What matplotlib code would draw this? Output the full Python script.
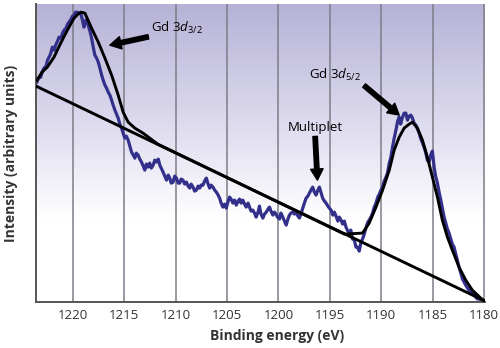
import numpy as np
import matplotlib
matplotlib.use("Agg")
import matplotlib.pyplot as plt
from matplotlib.colors import LinearSegmentedColormap

plt.rcParams['font.family'] = ['Open Sans', 'DejaVu Sans']
plt.rcParams['mathtext.fontset'] = 'custom'
plt.rcParams['mathtext.rm'] = 'Open Sans'
plt.rcParams['mathtext.it'] = 'Open Sans:italic'

# measured Gd 3d spectrum (binding energy in eV, intensity in arbitrary units)
energy = [
    1223.53, 1223.35, 1223.14, 1223.01, 1222.82, 1222.62, 1222.48, 1222.33, 1222.19, 1222.01,
    1221.85, 1221.65, 1221.51, 1221.36, 1221.17, 1221.02, 1220.87, 1220.68, 1220.53, 1220.39,
    1220.19, 1220.05, 1219.90, 1219.76, 1219.58, 1219.42, 1219.25, 1219.08, 1218.93, 1218.77,
    1218.64, 1218.52, 1218.35, 1218.19, 1218.03, 1217.87, 1217.70, 1217.54, 1217.38, 1217.21,
    1217.06, 1216.89, 1216.73, 1216.57, 1216.41, 1216.24, 1216.09, 1215.92, 1215.76, 1215.60,
    1215.44, 1215.27, 1215.12, 1214.95, 1214.81, 1214.63, 1214.47, 1214.30, 1214.13, 1213.98,
    1213.84, 1213.66, 1213.50, 1213.33, 1213.16, 1213.01, 1212.86, 1212.69, 1212.53, 1212.38,
    1212.20, 1212.04, 1211.88, 1211.70, 1211.55, 1211.41, 1211.23, 1211.07, 1210.90, 1210.73,
    1210.58, 1210.44, 1210.26, 1210.10, 1209.93, 1209.76, 1209.61, 1209.47, 1209.29, 1209.13,
    1208.96, 1208.79, 1208.64, 1208.50, 1208.32, 1208.16, 1207.99, 1207.82, 1207.67, 1207.53,
    1207.35, 1207.19, 1207.02, 1206.85, 1206.70, 1206.55, 1206.38, 1206.21, 1206.05, 1205.87,
    1205.73, 1205.58, 1205.41, 1205.24, 1205.08, 1204.90, 1204.76, 1204.61, 1204.44, 1204.27,
    1204.11, 1203.93, 1203.79, 1203.64, 1203.47, 1203.30, 1203.14, 1202.96, 1202.82, 1202.67,
    1202.50, 1202.33, 1202.17, 1201.99, 1201.85, 1201.70, 1201.52, 1201.36, 1201.19, 1201.02,
    1200.87, 1200.73, 1200.55, 1200.39, 1200.24, 1200.10, 1199.90, 1199.76, 1199.58, 1199.42,
    1199.25, 1199.08, 1198.93, 1198.79, 1198.61, 1198.45, 1198.28, 1198.11, 1197.96, 1197.82,
    1197.64, 1197.48, 1197.31, 1197.14, 1196.99, 1196.84, 1196.67, 1196.51, 1196.34, 1196.17,
    1196.02, 1195.87, 1195.70, 1195.53, 1195.37, 1195.19, 1195.05, 1194.88, 1194.71, 1194.56,
    1194.40, 1194.22, 1194.08, 1193.91, 1193.76, 1193.59, 1193.43, 1193.25, 1193.11, 1192.96,
    1192.79, 1192.62, 1192.46, 1192.30, 1192.14, 1191.97, 1191.82, 1191.65, 1191.49, 1191.31,
    1191.17, 1191.00, 1190.84, 1190.68, 1190.51, 1190.34, 1190.19, 1190.03, 1189.87, 1189.71,
    1189.54, 1189.39, 1189.22, 1189.08, 1188.90, 1188.74, 1188.57, 1188.40, 1188.25, 1188.11,
    1187.96, 1187.77, 1187.60, 1187.45, 1187.28, 1187.12, 1186.96, 1186.80, 1186.63, 1186.46,
    1186.31, 1186.17, 1186.02, 1185.83, 1185.68, 1185.51, 1185.34, 1185.19, 1185.02, 1184.85,
    1184.71, 1184.53, 1184.37, 1184.20, 1184.05, 1183.88, 1183.74, 1183.59, 1183.40, 1183.25,
    1183.08, 1182.91, 1182.77, 1182.59, 1182.43, 1182.26, 1182.09, 1181.94, 1181.78, 1181.60,
    1181.46, 1181.29, 1181.12, 1180.97, 1180.81, 1180.63, 1180.49, 1180.34, 1180.17, 1180.00,
]
intensity = [
    220, 224, 225, 230, 234, 236, 242, 245, 248, 255,
    252, 258, 261, 265, 264, 269, 272, 274, 278, 280,
    283, 286, 287, 290, 290, 289, 289, 282, 275, 282,
    280, 277, 271, 264, 255, 247, 244, 240, 234, 227,
    222, 217, 214, 210, 207, 202, 197, 192, 188, 184,
    178, 174, 169, 164, 166, 162, 156, 150, 147, 144,
    149, 147, 143, 140, 136, 132, 138, 135, 139, 134,
    137, 142, 140, 143, 137, 134, 130, 126, 122, 127,
    124, 119, 120, 126, 124, 119, 119, 123, 122, 118,
    120, 116, 114, 118, 115, 111, 112, 116, 114, 117,
    117, 121, 124, 118, 114, 117, 115, 112, 110, 107,
    104, 99, 95, 98, 94, 101, 105, 103, 99, 102,
    97, 101, 103, 99, 102, 98, 95, 99, 95, 91,
    92, 89, 85, 90, 96, 88, 84, 88, 90, 93,
    95, 91, 87, 90, 88, 85, 83, 89, 85, 81,
    77, 83, 87, 89, 90, 88, 90, 86, 84, 88,
    94, 99, 104, 106, 109, 112, 115, 110, 107, 112,
    115, 110, 104, 101, 99, 96, 94, 92, 87, 90,
    86, 81, 85, 82, 78, 81, 75, 71, 70, 72,
    63, 62, 55, 55, 51, 60, 63, 68, 74, 80,
    82, 85, 89, 95, 99, 105, 108, 112, 115, 121,
    125, 129, 139, 144, 155, 164, 172, 181, 185, 178,
    184, 189, 189, 182, 186, 187, 184, 179, 177, 173,
    169, 164, 160, 155, 150, 142, 140, 147, 151, 135,
    126, 119, 110, 102, 94, 85, 80, 74, 69, 64,
    58, 55, 49, 42, 35, 29, 23, 20, 17, 14,
    12, 10, 9, 7, 5, 3, 4, 2, 2, 1,
]

# fitted envelope (background + Gd 3d3/2 and 3d5/2 components)
fit_energy = [
    1223.50, 1223.01, 1222.50, 1221.85, 1221.20, 1220.55, 1219.90, 1219.52, 1219.22, 1218.84,
    1218.19, 1217.54, 1216.89, 1216.24, 1215.60, 1215.12, 1214.63, 1213.98, 1213.18, 1212.53,
    1211.75, 1193.59, 1192.62, 1191.82, 1191.17, 1190.51, 1189.87, 1189.22, 1188.74, 1188.25,
    1187.77, 1187.28, 1186.96, 1186.48, 1185.99, 1185.51, 1185.02, 1184.53, 1184.05, 1183.56,
    1183.08, 1182.43, 1181.78, 1181.14, 1180.32, 1180.00,
]
fit_intensity = [
    222, 230, 235, 245, 259, 272, 284, 288, 290, 289,
    274, 260, 244, 227, 207, 190, 180, 174, 169, 164,
    158, 68, 68.5, 69, 79, 95, 112, 132, 152, 165,
    174, 178, 180, 174, 162, 145, 125, 105, 82, 65,
    52, 35, 22, 12, 4, 1.5,
]

# linear background
base_energy = [1223.59, 1180.00]
base_intensity = [216, 1.5]

ticks = [1220, 1215, 1210, 1205, 1200, 1195, 1190, 1185, 1180]

fig = plt.figure(figsize=(5, 3.48), dpi=100)
ax = fig.add_axes([0.072, 0.132, 0.898, 0.856])

xmin, xmax = 1223.6, 1179.9
ymin, ymax = 0, 298
ax.set_xlim(xmin, xmax)
ax.set_ylim(ymin, ymax)

# lavender to white background
cmap = LinearSegmentedColormap.from_list(
    'bg', [(0.0, '#ffffff'), (0.28, '#ffffff'), (0.6, '#dddbee'), (1.0, '#b6b2d7')])
grad = np.linspace(0, 1, 256).reshape(-1, 1)
ax.imshow(grad, extent=(xmin, xmax, ymin, ymax), origin='lower',
          aspect='auto', cmap=cmap, zorder=0)

for t in ticks:
    ax.axvline(t, color='#7d7d88', lw=1.1, zorder=1)

ax.plot(energy, intensity, color='#33308c', lw=2.3, zorder=2)
ax.plot(base_energy, base_intensity, color='black', lw=2.1, zorder=3)
ax.plot(fit_energy, fit_intensity, color='black', lw=2.1, zorder=3)

arrow = dict(facecolor='black', edgecolor='black', width=3.2,
             headwidth=9, headlength=8, shrink=0)
ax.annotate(r'Gd 3$d$$_{3/2}$', xy=(1216.41, 257), xytext=(1212.4, 274),
            fontsize=9.5, va='center', ha='left', arrowprops=arrow, zorder=4)
ax.annotate(r'Gd 3$d$$_{5/2}$', xy=(1188.25, 187), xytext=(1197.0, 227),
            fontsize=9.5, va='center', ha='left', arrowprops=arrow, zorder=4)
ax.annotate('Multiplet', xy=(1196.21, 122), xytext=(1199.13, 175),
            fontsize=9.5, va='center', ha='left', arrowprops=arrow, zorder=4)

ax.set_xticks(ticks)
ax.set_yticks([])
ax.tick_params(axis='x', length=0, pad=5, labelsize=9.5, colors='#333333')

for side in ['top', 'right']:
    ax.spines[side].set_visible(False)
for side in ['left', 'bottom']:
    ax.spines[side].set_color('#555555')
    ax.spines[side].set_linewidth(1.4)

ax.set_xlabel('Binding energy (eV)', fontsize=10, fontweight='bold', color='#333333')
ax.xaxis.set_label_coords(0.538, -0.09)
ax.set_ylabel('Intensity (arbitrary units)', fontsize=10, fontweight='bold', color='#333333')
ax.yaxis.set_label_coords(-0.04, 0.5)

fig.savefig('out.png', dpi=100)
